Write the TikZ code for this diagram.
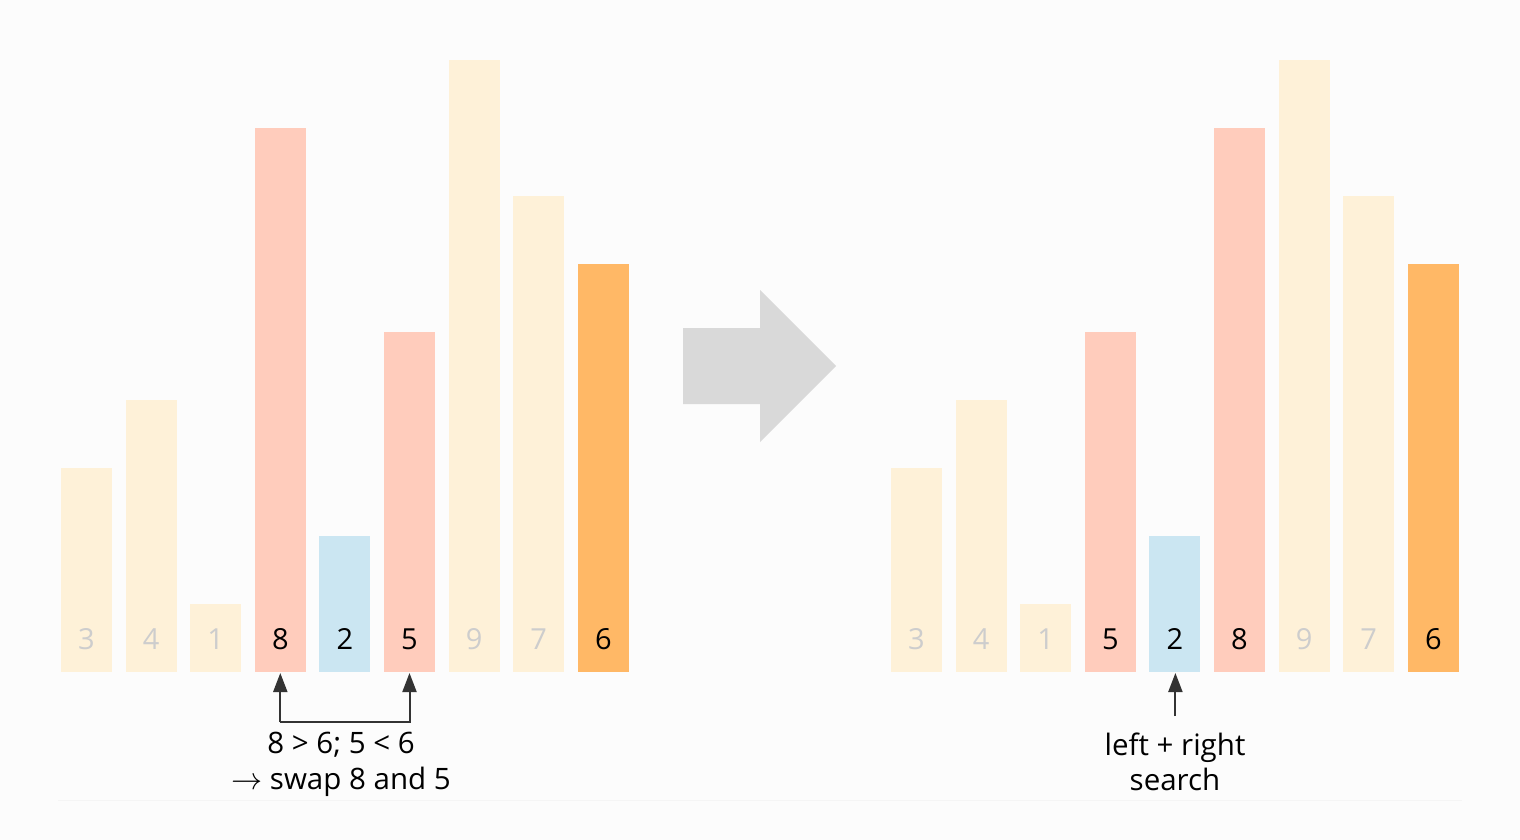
\documentclass[tikz,border=0pt]{standalone}
\usepackage{fontspec}
\setmainfont{Open Sans}
\usetikzlibrary{arrows.meta}
\definecolor{bgc}{HTML}{FCFCFC}
\definecolor{pale}{HTML}{FEF1D8}
\definecolor{pinkc}{HTML}{FFCCBC}
\definecolor{bluec}{HTML}{CBE6F2}
\definecolor{orangec}{HTML}{FFB866}
\definecolor{fadec}{HTML}{CDCDCD}
\definecolor{arrowc}{HTML}{D9D9D9}
\definecolor{inkc}{HTML}{333333}
\tikzset{
  val/.style={font=\fontsize{29}{32}\selectfont, text=black, anchor=base},
  fval/.style={val, text=fadec},
  conn/.style={draw=inkc, line width=2pt, -{Triangle[length=19pt,width=14pt]}},
  note/.style={font=\fontsize{29.5}{35.5}\selectfont, align=center, text=black, anchor=north}
}
\begin{document}
\begin{tikzpicture}[x=1pt,y=-1pt]
\useasboundingbox (0,0) rectangle (1520,840);
\fill[bgc] (0,0) rectangle (1520,840);
\draw[draw=black!4, line width=1pt] (58,800) -- (1462,800);
% left bars
\foreach \i/\v/\c/\s in {0/3/pale/fval,1/4/pale/fval,2/1/pale/fval,3/8/pinkc/val,4/2/bluec/val,5/5/pinkc/val,6/9/pale/fval,7/7/pale/fval,8/6/orangec/val}{
  \pgfmathsetmacro{\xx}{61+64.6*\i}
  \pgfmathsetmacro{\hh}{68*\v}
  \fill[\c] (\xx,672) rectangle ++(51,-\hh);
  \node[\s] (L\i) at (\xx+25.5,649) {\v};
}
% right bars
\foreach \i/\v/\c/\s in {0/3/pale/fval,1/4/pale/fval,2/1/pale/fval,3/5/pinkc/val,4/2/bluec/val,5/8/pinkc/val,6/9/pale/fval,7/7/pale/fval,8/6/orangec/val}{
  \pgfmathsetmacro{\xx}{891+64.6*\i}
  \pgfmathsetmacro{\hh}{68*\v}
  \fill[\c] (\xx,672) rectangle ++(51,-\hh);
  \node[\s] (R\i) at (\xx+25.5,649) {\v};
}
% bar bottoms as named coordinates
\coordinate (lb8) at (280.3,673);
\coordinate (lb5) at (409.5,673);
\coordinate (rb2) at (1175.4,673);
\coordinate (lj) at (280.3,722);
\coordinate (rj) at (409.5,722);
\coordinate (rs) at (1175.4,716);
% big arrow
\fill[arrowc] (683,328) -- (760,328) -- (760,290) -- (836,366) -- (760,442) -- (760,404) -- (683,404) -- cycle;
% connectors
\draw[conn] (lj) -- (lb8);
\draw[conn] (lj) -- (rj) -- (lb5);
\draw[conn] (rs) -- (rb2);
% notes
\node[note] (n1) at (341,729) {8 > 6; 5 < 6\\\scalebox{1.25}{$\rightarrow$} swap 8 and 5};
\node[note] (n2) at (1175,729) {left + right\\search};
\end{tikzpicture}
\end{document}
